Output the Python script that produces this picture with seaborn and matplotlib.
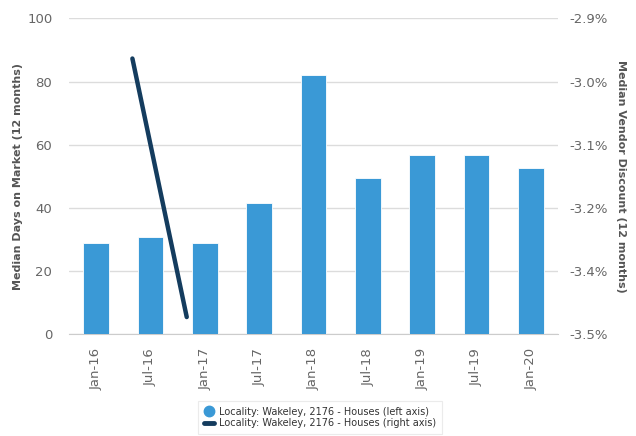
import numpy as np
import pandas as pd
import matplotlib
matplotlib.use("Agg")
import matplotlib.pyplot as plt
import seaborn as sns
from matplotlib.lines import Line2D

# Data
period_labels = ["Jan-16", "Jul-16", "Jan-17", "Jul-17", "Jan-18",
                 "Jul-18", "Jan-19", "Jul-19", "Jan-20"]
period_months = [0, 6, 12, 18, 24, 30, 36, 42, 48]   # months since Jan-16
days_on_market = [29.0, 30.8, 28.8, 41.7, 82.2, 49.5, 56.7, 56.7, 52.7]

discount_months = [4, 10]
vendor_discount = [-2.99, -3.44]

right_tick_labels = ["-3.5%", "-3.4%", "-3.2%", "-3.1%", "-3.0%", "-2.9%"]
series_name = "Locality: Wakeley, 2176 - Houses"

bar_color = "#3a99d6"
line_color = "#143c5e"
tick_color = "#666666"
label_color = "#555555"

sns.set_style("white")
plt.rcParams["font.family"] = ["DejaVu Sans"]

bars = pd.DataFrame({"month": period_months, "days": days_on_market})
disc = pd.DataFrame({"month": discount_months, "discount": vendor_discount})

fig = plt.figure(figsize=(6.36, 4.36), dpi=100)
ax = fig.add_axes([0.1085, 0.2333, 0.7689, 0.7247])

sns.barplot(data=bars, x="month", y="days", native_scale=True, width=0.47,
            color=bar_color, edgecolor="white", linewidth=0.6, saturation=1,
            ax=ax, zorder=3)

ax.set_xlim(-3, 51)
ax.set_ylim(0, 100)
ax.set_yticks(np.arange(0, 101, 20))
ax.set_xticks(period_months)
ax.set_xticklabels(period_labels, rotation=90)
ax.grid(axis="y", color="#dcdcdc", linewidth=1, zorder=0)
ax.set_axisbelow(True)
for s in ["top", "right", "left"]:
    ax.spines[s].set_visible(False)
ax.spines["bottom"].set_color("#cccccc")
ax.tick_params(axis="x", colors="#ccd6eb", length=7, width=1, labelcolor=tick_color,
               labelsize=9.5, pad=3)
ax.tick_params(axis="y", length=0, labelcolor=tick_color, labelsize=9.5, pad=12)
ax.set_xlabel("")
ax.set_ylabel("Median Days on Market (12 months)", fontsize=8, fontweight="bold",
              color=label_color)
ax.yaxis.set_label_coords(-0.094, 0.5)

ax2 = ax.twinx()
sns.lineplot(data=disc, x="month", y="discount", color=line_color, linewidth=3.2,
             solid_capstyle="round", ax=ax2, zorder=4)
lo, hi = -3.47, -2.92
ax2.set_ylim(lo, hi)
ax2.set_yticks(np.linspace(lo, hi, 6))
ax2.set_yticklabels(right_tick_labels)
ax2.grid(False)
for s in ["top", "right", "left", "bottom"]:
    ax2.spines[s].set_visible(False)
ax2.tick_params(axis="y", length=0, labelcolor=tick_color, labelsize=9.5, pad=8)
ax2.set_xlabel("")
ax2.set_ylabel("Median Vendor Discount (12 months)", fontsize=8, fontweight="bold",
               color=label_color, rotation=-90)
ax2.yaxis.set_label_coords(1.14, 0.5)
ax2.set_xlim(-3, 51)

handles = [
    Line2D([], [], marker="o", linestyle="none", markersize=7.5,
           markerfacecolor=bar_color, markeredgecolor=bar_color),
    Line2D([], [], color=line_color, linewidth=3.5),
]
labels = [f"{series_name} (left axis)", f"{series_name} (right axis)"]
leg = fig.legend(handles, labels, loc="upper center",
                 bbox_to_anchor=(0.503, 1 - 399 / 436),
                 fontsize=7, frameon=True, fancybox=False, handlelength=1.0,
                 handletextpad=0.5, labelspacing=0.15, borderpad=0.6,
                 borderaxespad=0.2)
leg.get_frame().set_edgecolor("#e6e6e6")
leg.get_frame().set_linewidth(0.8)
for t in leg.get_texts():
    t.set_color("#333333")

fig.savefig("out.png", dpi=100)
